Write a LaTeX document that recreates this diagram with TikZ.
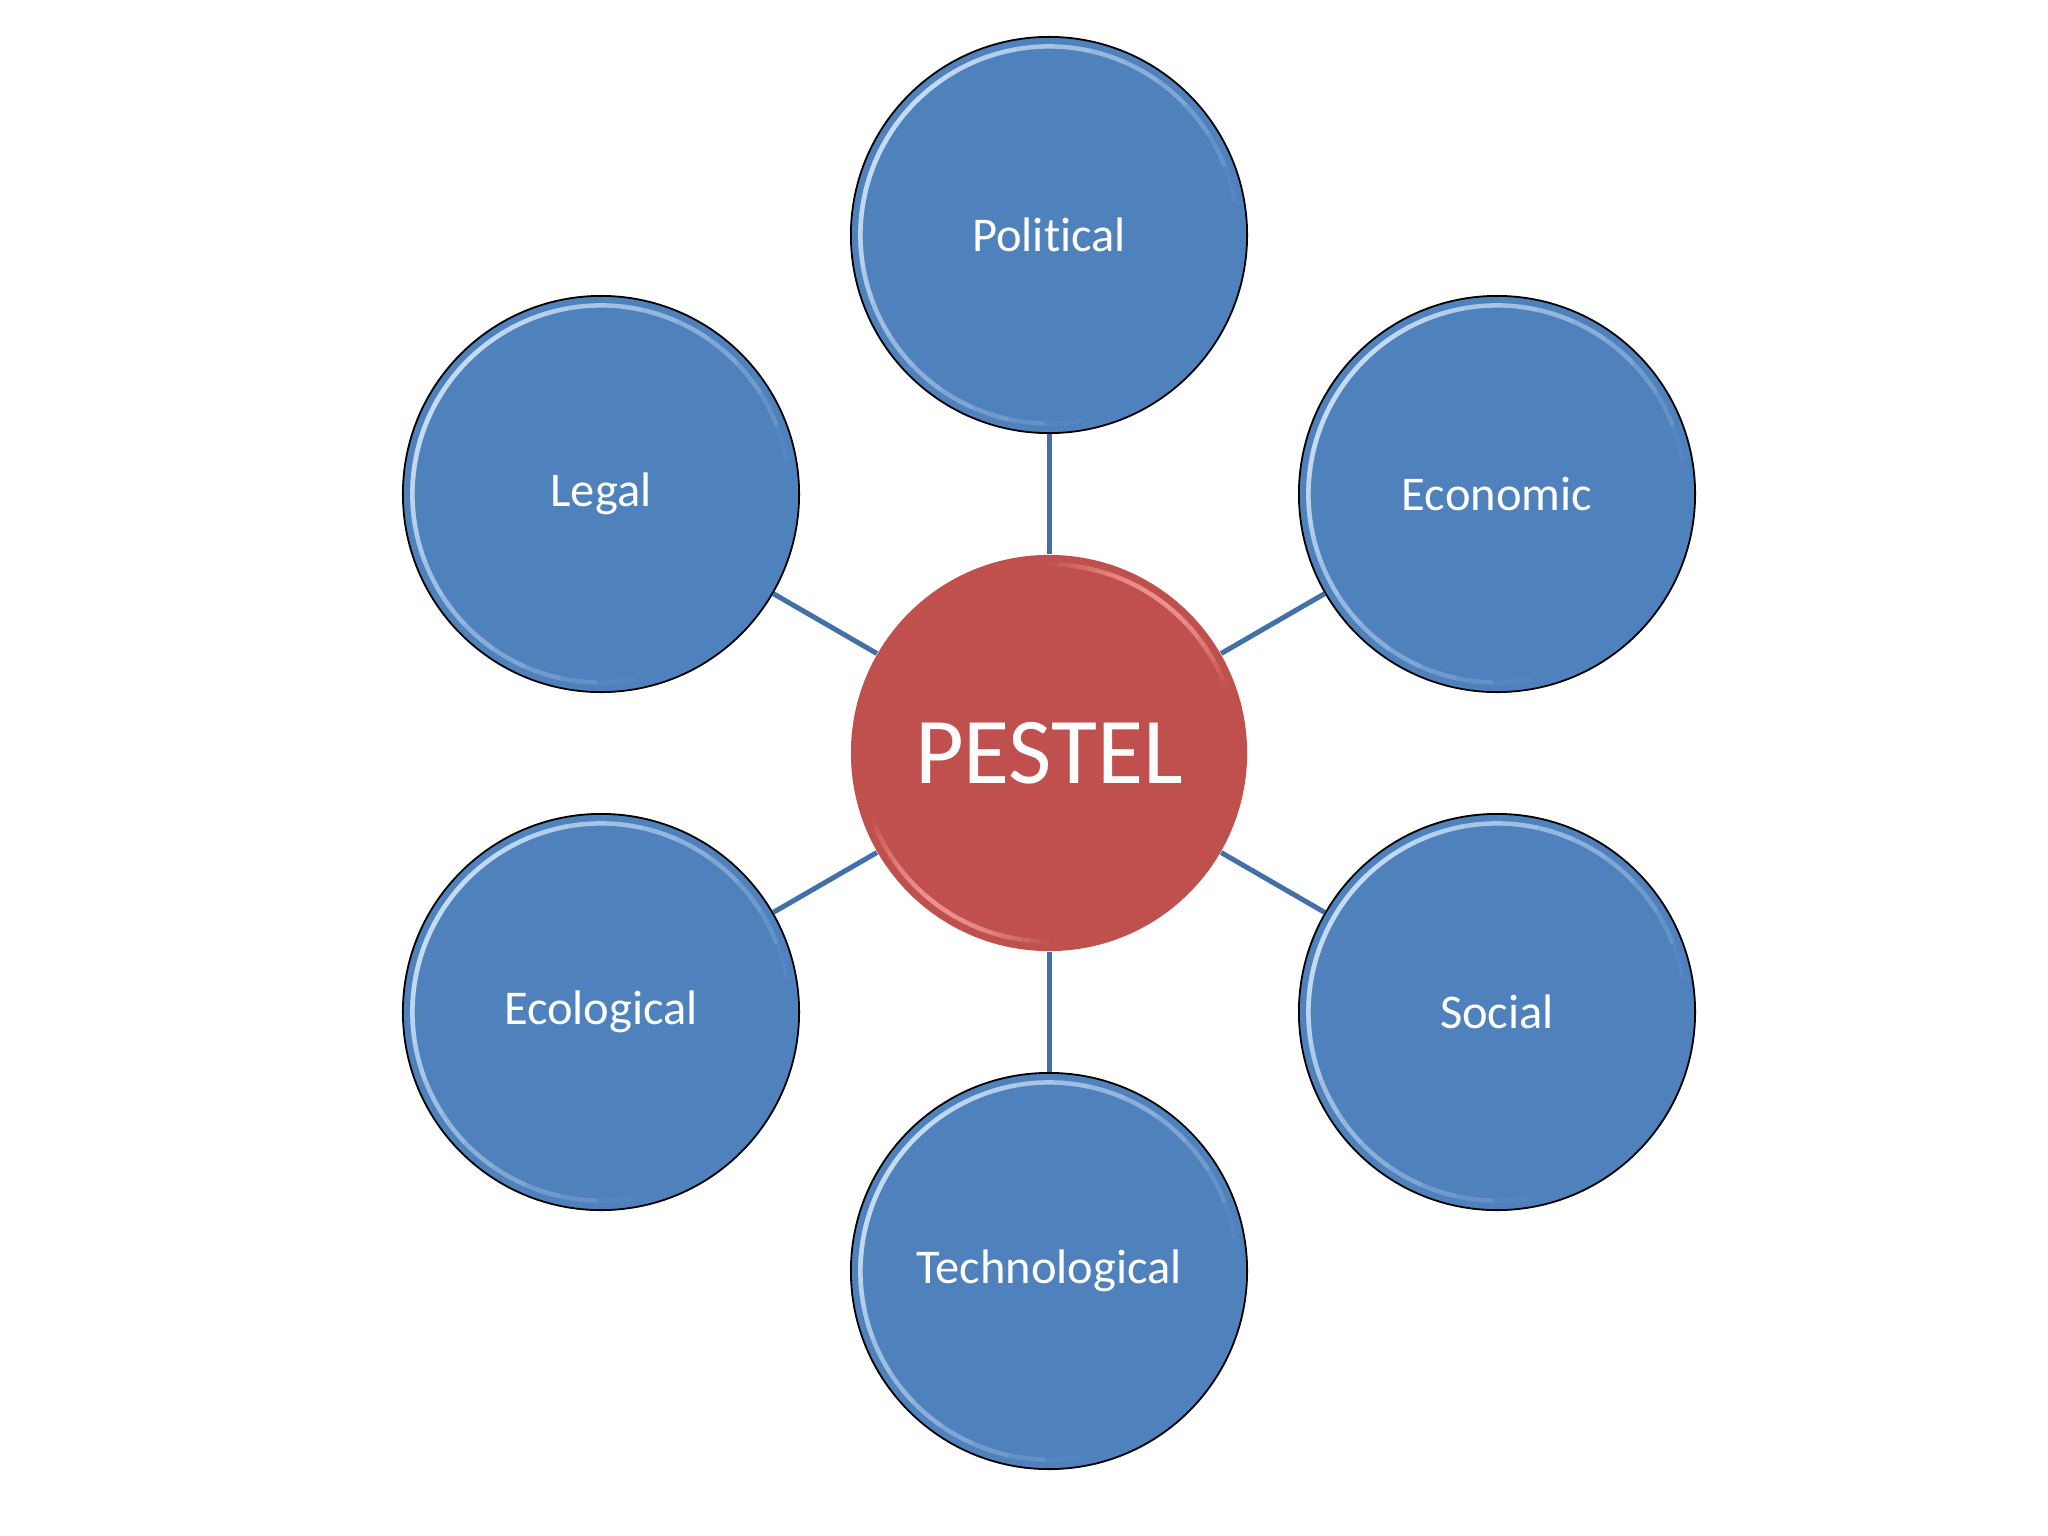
\documentclass[tikz,border=0pt]{standalone}
\usepackage{fontspec}
\setmainfont{Carlito}[Ligatures=NoCommon]
\definecolor{bfill}{HTML}{4F81BD}
\definecolor{rfill}{HTML}{C0504D}
\definecolor{linkc}{HTML}{4271A9}
\definecolor{bglint}{HTML}{C6DDF5}
\definecolor{rglint}{HTML}{F29A94}
\newcommand\glint[4]{%
  \foreach \i in {0,...,23} {
    \pgfmathsetmacro\aa{#2+(#3-#2)*\i/24}
    \pgfmathsetmacro\bb{#2+(#3-#2)*(\i+1)/24}
    \pgfmathsetmacro\op{sin(180*(\i+0.5)/24)*0.9}
    \draw[#4, draw opacity=\op, line width=0.045cm] (#1.center) ++(\aa:1.885cm) arc[start angle=\aa, end angle=\bb, radius=1.885cm];
  }}
\tikzset{
  sat/.style={circle, draw=black, line width=0.018cm, fill=bfill, minimum size=3.96cm, inner sep=0pt, text=white, font=\fontsize{13.8}{16}\selectfont},
  core/.style={circle, fill=rfill, minimum size=3.96cm, inner sep=0pt, text=white, font=\fontsize{26.8}{30}\selectfont},
  linkline/.style={draw=linkc, line width=0.05cm}
}
\begin{document}
\begin{tikzpicture}[x=0.01cm,y=-0.01cm]
\useasboundingbox[fill=white] (0,0) rectangle (2048,1536);
\node[core] (c) at (1049,753) {PESTEL};
\node[sat] (p) at (1049,235) {Political};
\node[sat] (e) at (1497,494) {Economic};
\node[sat] (s) at (1497,1012) {Social};
\node[sat] (t) at (1049,1271) {Technological};
\node[sat] (eco) at (601,1012) {Ecological};
\node[sat] (l) at (601,494) {Legal};
\foreach \n in {p,e,s,t,eco,l} {\draw[linkline] (c) -- (\n);}
\foreach \n in {p,e,s,t,eco,l} {
  \glint{\n}{100}{200}{bglint}
  \glint{\n}{280}{10}{bglint}
}
\glint{c}{20}{90}{rglint}
\glint{c}{200}{270}{rglint}
\end{tikzpicture}
\end{document}
